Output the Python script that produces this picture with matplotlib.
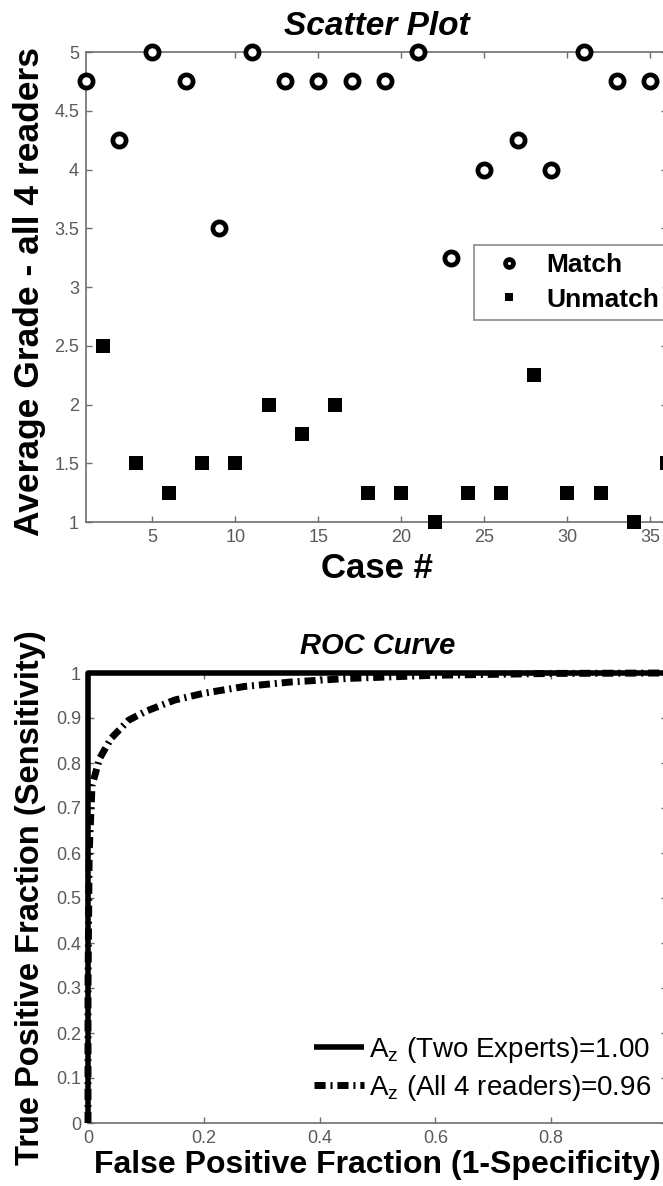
import matplotlib
matplotlib.use("Agg")
import matplotlib.pyplot as plt
from matplotlib import font_manager

# ---------------- data ----------------
match_cases = [1, 3, 5, 7, 9, 11, 13, 15, 17, 19, 21, 23, 25, 27, 29, 31, 33, 35]
match_grades = [4.75, 4.25, 5, 4.75, 3.5, 5, 4.75, 4.75, 4.75, 4.75, 5, 3.25, 4, 4.25, 4, 5, 4.75, 4.75]
unmatch_cases = [2, 4, 6, 8, 10, 12, 14, 16, 18, 20, 22, 24, 26, 28, 30, 32, 34, 36]
unmatch_grades = [2.5, 1.5, 1.25, 1.5, 1.5, 2, 1.75, 2, 1.25, 1.25, 1, 1.25, 1.25, 2.25, 1.25, 1.25, 1, 1.5]

scatter_xticks = [5, 10, 15, 20, 25, 30, 35]
scatter_yticks = [1, 1.5, 2, 2.5, 3, 3.5, 4, 4.5, 5]
scatter_yticklabels = ["1", "1.5", "2", "2.5", "3", "3.5", "4", "4.5", "5"]

experts_fpf = [0, 0, 1]
experts_tpf = [0, 1, 1]
readers_fpf = [0, 0.0, 0.002, 0.007, 0.02, 0.04, 0.07, 0.1, 0.15, 0.2, 0.27, 0.35, 0.45, 0.6, 0.8, 1.0]
readers_tpf = [0, 0.3, 0.6, 0.75, 0.81, 0.855, 0.895, 0.915, 0.94, 0.955, 0.97, 0.98, 0.988, 0.995, 0.999, 1.0]

roc_ticks = [0, 0.1, 0.2, 0.3, 0.4, 0.5, 0.6, 0.7, 0.8, 0.9, 1]
roc_ticklabels = ["0", "0.1", "0.2", "0.3", "0.4", "0.5", "0.6", "0.7", "0.8", "0.9", "1"]
roc_xticks = [0, 0.2, 0.4, 0.6, 0.8, 1]
roc_xticklabels = ["0", "0.2", "0.4", "0.6", "0.8", ""]

# ---------------- style ----------------
names = {f.name for f in font_manager.fontManager.ttflist}
tick_family = ["Liberation Sans Narrow", "Liberation Sans"] if "Liberation Sans Narrow" in names else ["Liberation Sans"]
plt.rcParams["font.family"] = ["Liberation Sans", "DejaVu Sans"]
plt.rcParams["mathtext.fontset"] = "custom"
plt.rcParams["mathtext.rm"] = "Liberation Sans"

GRAY = "#6e6e6e"
TICKC = "#5a5a5a"

W, H = 663, 1186
fig = plt.figure(figsize=(W / 100, H / 100), dpi=100)


def style_axes(ax):
    for s in ax.spines.values():
        s.set_color(GRAY)
        s.set_linewidth(1.2)
    ax.tick_params(direction="in", length=4, width=1, color=GRAY,
                   top=True, right=True, labelsize=13, labelcolor=TICKC, pad=5)
    for lab in ax.get_xticklabels() + ax.get_yticklabels():
        lab.set_family(tick_family)


# ---------------- scatter ----------------
ax1 = fig.add_axes([86 / W, 1 - 522 / H, 581 / W, 470 / H])
ax1.plot(match_cases, match_grades, linestyle="none", marker="o", markersize=9.5,
         markerfacecolor="white", markeredgecolor="black", markeredgewidth=3.4,
         label="Match", clip_on=False, zorder=3)
ax1.plot(unmatch_cases, unmatch_grades, linestyle="none", marker="s", markersize=9.5,
         markerfacecolor="black", markeredgecolor="black", markeredgewidth=0,
         label="Unmatch", clip_on=False, zorder=3)
ax1.set_xlim(1, 36)
ax1.set_ylim(1, 5)
ax1.set_xticks(scatter_xticks)
ax1.set_xticklabels([str(t) for t in scatter_xticks])
ax1.set_yticks(scatter_yticks)
ax1.set_yticklabels(scatter_yticklabels)
style_axes(ax1)
ax1.set_title("Scatter Plot", fontsize=24, fontweight="bold", fontstyle="italic", pad=12)
ax1.set_xlabel("Case #", fontsize=25, fontweight="bold", labelpad=4)
ax1.set_ylabel("Average Grade - all 4 readers", fontsize=25.5, fontweight="bold")
ax1.yaxis.set_label_coords(-40 / 581, 0.49)
leg1 = ax1.legend(loc="upper left", bbox_to_anchor=(388 / 581, 0.589),
                  prop={"weight": "bold", "size": 19}, markerscale=0.6,
                  frameon=True, fancybox=False, edgecolor=GRAY, handlelength=2.05,
                  handletextpad=0.4, borderpad=0.3, labelspacing=0.4, borderaxespad=0)
leg1.get_frame().set_linewidth(1.2)

# ---------------- ROC ----------------
ax2 = fig.add_axes([88 / W, 1 - 1123 / H, 579 / W, 450 / H])
ax2.plot(experts_fpf, experts_tpf, color="black", linewidth=4.0, solid_capstyle="butt",
         label=r"A$_\mathregular{z}$ (Two Experts)=1.00", clip_on=False, zorder=3)
ax2.plot(readers_fpf, readers_tpf, color="black", linewidth=5.0,
         dashes=(1.6, 0.7, 0.3, 0.7), dash_capstyle="butt",
         label=r"A$_\mathregular{z}$ (All 4 readers)=0.96", clip_on=False, zorder=4)
ax2.set_xlim(0, 1)
ax2.set_ylim(0, 1)
ax2.set_xticks(roc_xticks)
ax2.set_xticklabels(roc_xticklabels)
ax2.set_yticks(roc_ticks)
ax2.set_yticklabels(roc_ticklabels)
style_axes(ax2)
ax2.set_title("ROC Curve", fontsize=21, fontweight="bold", fontstyle="italic", pad=14)
ax2.set_xlabel("False Positive Fraction (1-Specificity)", fontsize=23, fontweight="bold", labelpad=2)
ax2.set_ylabel("True Positive Fraction (Sensitivity)", fontsize=23.5, fontweight="bold")
ax2.yaxis.set_label_coords(-42 / 579, 0.5)
leg2 = ax2.legend(loc="lower right", bbox_to_anchor=(0.992, 0.02), prop={"size": 20},
                  frameon=False, handlelength=1.8, handletextpad=0.2,
                  labelspacing=0.3, borderaxespad=0)

fig.savefig("out.png", dpi=100)
